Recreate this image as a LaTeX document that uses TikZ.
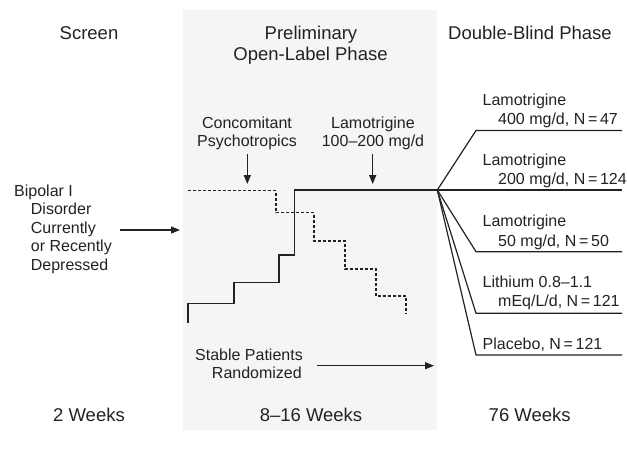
\documentclass[tikz,border=0pt]{standalone}
\usepackage{fontspec}
\setmainfont{Liberation Sans}
\usetikzlibrary{arrows.meta}
\definecolor{ink}{HTML}{222222}
\definecolor{panel}{HTML}{F5F5F5}
\begin{document}
\begin{tikzpicture}[x=1pt,y=-1pt,
  every node/.style={inner sep=0pt, text=ink},
  title/.style={font=\fontsize{18.5}{21}\selectfont, anchor=base},
  lbl/.style={font=\fontsize{16}{18}\selectfont, anchor=base},
  lblw/.style={font=\fontsize{16}{18}\selectfont, anchor=base west},
  ln/.style={draw=ink, line width=1.2pt},
  arr/.style={ln, -{Triangle[length=9pt,width=7pt]}},
  dashline/.style={draw=ink, line width=1.2pt, dash pattern=on 3pt off 2pt}
]
\useasboundingbox (0,0) rectangle (627,467);
\fill[panel] (183,10) rectangle (437,430);

% titles
\node[title] (tScreen) at (89,39.3) {Screen};
\node[title] (tPrelim1) at (311,39.3) {Preliminary};
\node[title] (tPrelim2) at (310.5,60) {Open-Label Phase};
\node[title] (tDB) at (530,39.3) {Double-Blind Phase};

% durations
\node[title] (d1) at (89,421.7) {2 Weeks};
\node[title] (d2) at (311,421.7) {8–16 Weeks};
\node[title] (d3) at (529.7,421.7) {76 Weeks};

% bipolar block
\node[lblw] (b1) at (14,196) {Bipolar I};
\node[lblw] (b2) at (30.7,214.5) {Disorder};
\node[lblw] (b3) at (30.7,233) {Currently};
\node[lblw] (b4) at (30.7,251.5) {or Recently};
\node[lblw] (b5) at (30.7,270) {Depressed};
\coordinate (inA) at (120,230);
\coordinate (inB) at (180,230);
\draw[arr] (inA) -- (inB);

% top labels
\node[lbl] (c1) at (247,128.3) {Concomitant};
\node[lbl] (c2) at (247,146.7) {Psychotropics};
\node[lbl] (l1) at (373,128.3) {Lamotrigine};
\node[lbl] (l2) at (373,146.7) {100–200 mg/d};
\coordinate (cA) at (247.3,154);
\coordinate (cB) at (247.3,184);
\coordinate (lA) at (372.7,154);
\coordinate (lB) at (372.7,184);
\draw[arr] (cA) -- (cB);
\draw[arr] (lA) -- (lB);

% dashed taper
\draw[dashline] (188,190.7) -- (276,190.7) -- (276,212.7) -- (314,212.7) -- (314,241)
  -- (345,241) -- (345,269) -- (376,269) -- (376,296) -- (406,296) -- (406,314);

% solid titration staircase
\coordinate (br) at (437.3,190);
\draw[ln] (188,323) -- (188,303.3) -- (234,303.3) -- (234,282.7) -- (279,282.7)
  -- (279,255) -- (294.3,255) -- (294.3,190) -- (br);

% branches
\draw[ln] (br) -- (476,130.5) -- (622,130.5);
\draw[ln] (br) -- (622,190);
\draw[ln] (br) -- (476,251.7) -- (622,251.7);
\draw[ln] (br) -- (476,313.3) -- (622,313.3);
\draw[ln] (br) -- (476,355) -- (622,355);

% arm labels
\node[lblw] (a1) at (482.5,105) {Lamotrigine};
\node[lblw] (a1b) at (498,124.5) {400 mg/d, N\,=\,47};
\node[lblw] (a2) at (482.5,165) {Lamotrigine};
\node[lblw] (a2b) at (498,184) {200 mg/d, N\,=\,124};
\node[lblw] (a3) at (482.5,226.5) {Lamotrigine};
\node[lblw] (a3b) at (498,246) {50 mg/d, N\,=\,50};
\node[lblw] (a4) at (482.5,287.5) {Lithium 0.8–1.1};
\node[lblw] (a4b) at (498,306.5) {mEq/L/d, N\,=\,121};
\node[lblw] (a5) at (482.5,349) {Placebo, N\,=\,121};

% randomized
\node[lbl, anchor=base east] (s1) at (303,360) {Stable Patients};
\node[lbl, anchor=base east] (s2) at (302,378.3) {Randomized};
\coordinate (rA) at (316.7,365.7);
\coordinate (rB) at (434,365.7);
\draw[arr] (rA) -- (rB);
\end{tikzpicture}
\end{document}
